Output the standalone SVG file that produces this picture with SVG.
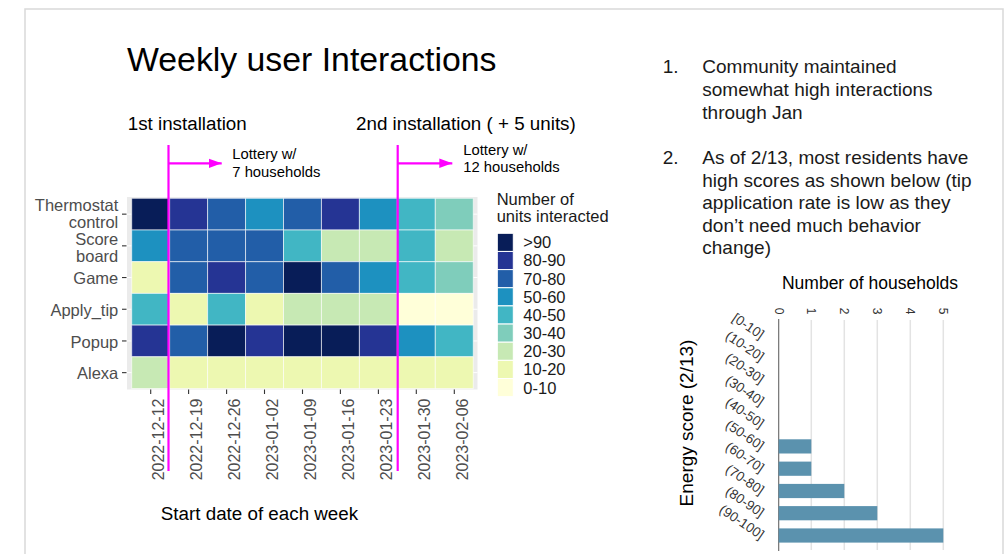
<svg xmlns="http://www.w3.org/2000/svg" width="1005" height="554" viewBox="0 0 1005 554">
<style>
text{font-family:"Liberation Sans",Arial,sans-serif;}
.t{fill:#000}
.ax{fill:#4d4d4d;font-size:16.5px}
.xl{fill:#4d4d4d;font-size:16px}
.lg{fill:#1a1a1a;font-size:16.5px}
.rt{fill:#1a1a1a;font-size:19px}
.c9{fill:#081d58}.c8{fill:#253494}.c7{fill:#225ea8}.c5{fill:#1d91c0}.c4{fill:#41b6c4}.c3{fill:#7fcdbb}.c2{fill:#c7e9b4}.c1{fill:#edf8b1}.c0{fill:#ffffd9}
.tile rect{stroke:#ffffff;stroke-opacity:0.6;stroke-width:1}
.key rect{stroke:#ffffff;stroke-width:1}
.mag{stroke:#ff00ff;stroke-width:2.2;fill:none}
.tick{stroke:#333;stroke-width:1.1}
.grid{stroke:#e3e3e3;stroke-width:1.5}
.bar{fill:#5b92ae}
.bl{fill:#333;font-size:13.5px}
</style>
<defs>
<marker id="ah" markerUnits="userSpaceOnUse" markerWidth="14" markerHeight="10" refX="13" refY="5" orient="auto">
<path d="M0,0.3 L13,5 L0,9.7 z" fill="#ff00ff"/>
</marker>
</defs>
<rect x="0" y="0" width="1005" height="554" fill="#fff"/>
<rect x="25" y="9" width="978" height="560" fill="none" stroke="#d9d9d9" stroke-width="1.5"/>

<g id="title">
<text class="t" x="127" y="71" font-size="33.8">Weekly user Interactions</text>
</g>

<g id="install-labels">
<text class="t" x="127.7" y="130" font-size="18.8">1st installation</text>
<text class="t" x="356" y="130" font-size="18.8">2nd installation ( + 5 units)</text>
<text class="t" x="232.3" y="159.3" font-size="14.8">Lottery w/</text>
<text class="t" x="232.3" y="176.7" font-size="14.8">7 households</text>
<text class="t" x="463.3" y="155" font-size="14.8">Lottery w/</text>
<text class="t" x="463.3" y="171.7" font-size="14.8">12 households</text>
</g>

<g id="heatmap">
<rect x="127" y="197" width="350.5" height="192.5" fill="#ebebeb"/>
<g stroke="#fff" stroke-width="1">
<line x1="127" y1="214.15" x2="477.5" y2="214.15"/>
<line x1="127" y1="245.85" x2="477.5" y2="245.85"/>
<line x1="127" y1="277.55" x2="477.5" y2="277.55"/>
<line x1="127" y1="309.25" x2="477.5" y2="309.25"/>
<line x1="127" y1="340.95" x2="477.5" y2="340.95"/>
<line x1="127" y1="372.65" x2="477.5" y2="372.65"/>
</g>
<g class="tile">
<rect class="c9" x="131.7" y="198.3" width="37.95" height="31.7"/>
<rect class="c8" x="169.65" y="198.3" width="37.95" height="31.7"/>
<rect class="c7" x="207.6" y="198.3" width="37.95" height="31.7"/>
<rect class="c5" x="245.55" y="198.3" width="37.95" height="31.7"/>
<rect class="c7" x="283.5" y="198.3" width="37.95" height="31.7"/>
<rect class="c8" x="321.45" y="198.3" width="37.95" height="31.7"/>
<rect class="c5" x="359.4" y="198.3" width="37.95" height="31.7"/>
<rect class="c4" x="397.35" y="198.3" width="37.95" height="31.7"/>
<rect class="c3" x="435.3" y="198.3" width="37.95" height="31.7"/>

<rect class="c5" x="131.7" y="230" width="37.95" height="31.7"/>
<rect class="c7" x="169.65" y="230" width="37.95" height="31.7"/>
<rect class="c7" x="207.6" y="230" width="37.95" height="31.7"/>
<rect class="c7" x="245.55" y="230" width="37.95" height="31.7"/>
<rect class="c4" x="283.5" y="230" width="37.95" height="31.7"/>
<rect class="c2" x="321.45" y="230" width="37.95" height="31.7"/>
<rect class="c2" x="359.4" y="230" width="37.95" height="31.7"/>
<rect class="c4" x="397.35" y="230" width="37.95" height="31.7"/>
<rect class="c2" x="435.3" y="230" width="37.95" height="31.7"/>

<rect class="c1" x="131.7" y="261.7" width="37.95" height="31.7"/>
<rect class="c7" x="169.65" y="261.7" width="37.95" height="31.7"/>
<rect class="c8" x="207.6" y="261.7" width="37.95" height="31.7"/>
<rect class="c7" x="245.55" y="261.7" width="37.95" height="31.7"/>
<rect class="c9" x="283.5" y="261.7" width="37.95" height="31.7"/>
<rect class="c7" x="321.45" y="261.7" width="37.95" height="31.7"/>
<rect class="c5" x="359.4" y="261.7" width="37.95" height="31.7"/>
<rect class="c4" x="397.35" y="261.7" width="37.95" height="31.7"/>
<rect class="c3" x="435.3" y="261.7" width="37.95" height="31.7"/>

<rect class="c4" x="131.7" y="293.4" width="37.95" height="31.7"/>
<rect class="c1" x="169.65" y="293.4" width="37.95" height="31.7"/>
<rect class="c4" x="207.6" y="293.4" width="37.95" height="31.7"/>
<rect class="c1" x="245.55" y="293.4" width="37.95" height="31.7"/>
<rect class="c2" x="283.5" y="293.4" width="37.95" height="31.7"/>
<rect class="c2" x="321.45" y="293.4" width="37.95" height="31.7"/>
<rect class="c2" x="359.4" y="293.4" width="37.95" height="31.7"/>
<rect class="c0" x="397.35" y="293.4" width="37.95" height="31.7"/>
<rect class="c0" x="435.3" y="293.4" width="37.95" height="31.7"/>

<rect class="c8" x="131.7" y="325.1" width="37.95" height="31.7"/>
<rect class="c7" x="169.65" y="325.1" width="37.95" height="31.7"/>
<rect class="c9" x="207.6" y="325.1" width="37.95" height="31.7"/>
<rect class="c8" x="245.55" y="325.1" width="37.95" height="31.7"/>
<rect class="c9" x="283.5" y="325.1" width="37.95" height="31.7"/>
<rect class="c9" x="321.45" y="325.1" width="37.95" height="31.7"/>
<rect class="c8" x="359.4" y="325.1" width="37.95" height="31.7"/>
<rect class="c5" x="397.35" y="325.1" width="37.95" height="31.7"/>
<rect class="c4" x="435.3" y="325.1" width="37.95" height="31.7"/>

<rect class="c2" x="131.7" y="356.8" width="37.95" height="31.7"/>
<rect class="c1" x="169.65" y="356.8" width="37.95" height="31.7"/>
<rect class="c1" x="207.6" y="356.8" width="37.95" height="31.7"/>
<rect class="c1" x="245.55" y="356.8" width="37.95" height="31.7"/>
<rect class="c1" x="283.5" y="356.8" width="37.95" height="31.7"/>
<rect class="c1" x="321.45" y="356.8" width="37.95" height="31.7"/>
<rect class="c1" x="359.4" y="356.8" width="37.95" height="31.7"/>
<rect class="c1" x="397.35" y="356.8" width="37.95" height="31.7"/>
<rect class="c1" x="435.3" y="356.8" width="37.95" height="31.7"/>
</g>
<g class="tick">
<line x1="122" y1="214.15" x2="126.5" y2="214.15"/>
<line x1="122" y1="245.85" x2="126.5" y2="245.85"/>
<line x1="122" y1="277.55" x2="126.5" y2="277.55"/>
<line x1="122" y1="309.25" x2="126.5" y2="309.25"/>
<line x1="122" y1="340.95" x2="126.5" y2="340.95"/>
<line x1="122" y1="372.65" x2="126.5" y2="372.65"/>
<line x1="150.7" y1="389.5" x2="150.7" y2="394"/>
<line x1="188.6" y1="389.5" x2="188.6" y2="394"/>
<line x1="226.6" y1="389.5" x2="226.6" y2="394"/>
<line x1="264.5" y1="389.5" x2="264.5" y2="394"/>
<line x1="302.5" y1="389.5" x2="302.5" y2="394"/>
<line x1="340.4" y1="389.5" x2="340.4" y2="394"/>
<line x1="378.4" y1="389.5" x2="378.4" y2="394"/>
<line x1="416.3" y1="389.5" x2="416.3" y2="394"/>
<line x1="454.3" y1="389.5" x2="454.3" y2="394"/>
</g>
<g text-anchor="end">
<text class="ax" x="118.3" y="211">Thermostat</text>
<text class="ax" x="118.3" y="228">control</text>
<text class="ax" x="118.3" y="244.5">Score</text>
<text class="ax" x="118.3" y="261.5">board</text>
<text class="ax" x="118.3" y="284">Game</text>
<text class="ax" x="118.3" y="316">Apply_tip</text>
<text class="ax" x="118.3" y="347.5">Popup</text>
<text class="ax" x="118.3" y="379.3">Alexa</text>
<text class="xl" transform="translate(164.2,398.5) rotate(-90)">2022-12-12</text>
<text class="xl" transform="translate(202.1,398.5) rotate(-90)">2022-12-19</text>
<text class="xl" transform="translate(240.1,398.5) rotate(-90)">2022-12-26</text>
<text class="xl" transform="translate(278,398.5) rotate(-90)">2023-01-02</text>
<text class="xl" transform="translate(316,398.5) rotate(-90)">2023-01-09</text>
<text class="xl" transform="translate(353.9,398.5) rotate(-90)">2023-01-16</text>
<text class="xl" transform="translate(391.9,398.5) rotate(-90)">2023-01-23</text>
<text class="xl" transform="translate(429.8,398.5) rotate(-90)">2023-01-30</text>
<text class="xl" transform="translate(467.8,398.5) rotate(-90)">2023-02-06</text>
</g>
<text class="t" x="259.5" y="520" font-size="18.8" text-anchor="middle">Start date of each week</text>
</g>

<g id="connectors">
<line class="mag" x1="168.5" y1="145" x2="168.5" y2="471"/>
<line class="mag" x1="168.5" y1="163.3" x2="221.7" y2="163.3" marker-end="url(#ah)"/>
<line class="mag" x1="397.7" y1="145" x2="397.7" y2="471"/>
<line class="mag" x1="397.7" y1="163.3" x2="452.3" y2="163.3" marker-end="url(#ah)"/>
</g>

<g id="legend">
<text class="lg" x="496.7" y="205">Number of</text>
<text class="lg" x="496.7" y="222.3">units interacted</text>
<g class="key">
<rect class="c9" x="497.3" y="233.3" width="16" height="18.15"/>
<rect class="c8" x="497.3" y="251.45" width="16" height="18.15"/>
<rect class="c7" x="497.3" y="269.6" width="16" height="18.15"/>
<rect class="c5" x="497.3" y="287.75" width="16" height="18.15"/>
<rect class="c4" x="497.3" y="305.9" width="16" height="18.15"/>
<rect class="c3" x="497.3" y="324.05" width="16" height="18.15"/>
<rect class="c2" x="497.3" y="342.2" width="16" height="18.15"/>
<rect class="c1" x="497.3" y="360.35" width="16" height="18.15"/>
<rect class="c0" x="497.3" y="378.5" width="16" height="18.15"/>
</g>
<text class="lg" x="523.3" y="248.3">&gt;90</text>
<text class="lg" x="523.3" y="266.45">80-90</text>
<text class="lg" x="523.3" y="284.6">70-80</text>
<text class="lg" x="523.3" y="302.75">50-60</text>
<text class="lg" x="523.3" y="320.9">40-50</text>
<text class="lg" x="523.3" y="339.05">30-40</text>
<text class="lg" x="523.3" y="357.2">20-30</text>
<text class="lg" x="523.3" y="375.35">10-20</text>
<text class="lg" x="523.3" y="393.5">0-10</text>
</g>

<g id="notes">
<text class="rt" x="662.7" y="73.3">1.</text>
<text class="rt" x="702.3" y="73.3">Community maintained</text>
<text class="rt" x="702.3" y="95.9">somewhat high interactions</text>
<text class="rt" x="702.3" y="118.5">through Jan</text>
<text class="rt" x="662.7" y="164">2.</text>
<text class="rt" x="702.3" y="164">As of 2/13, most residents have</text>
<text class="rt" x="702.3" y="186.6">high scores as shown below (tip</text>
<text class="rt" x="702.3" y="209.2">application rate is low as they</text>
<text class="rt" x="702.3" y="231.8">don’t need much behavior</text>
<text class="rt" x="702.3" y="254.4">change)</text>
</g>

<g id="barchart">
<text class="t" x="870" y="288.5" font-size="17.5" text-anchor="middle" fill="#1a1a1a">Number of households</text>
<g class="grid">
<line x1="811.3" y1="320" x2="811.3" y2="550"/>
<line x1="844.3" y1="320" x2="844.3" y2="550"/>
<line x1="877.3" y1="320" x2="877.3" y2="550"/>
<line x1="910.3" y1="320" x2="910.3" y2="550"/>
<line x1="943.3" y1="320" x2="943.3" y2="550"/>
</g>
<line x1="778.7" y1="319" x2="778.7" y2="551" stroke="#666" stroke-width="1.1"/>
<g font-size="12" fill="#333" text-anchor="middle" dominant-baseline="central">
<text transform="translate(778.7,311) rotate(90)">0</text>
<text transform="translate(811.3,311) rotate(90)">1</text>
<text transform="translate(844.3,311) rotate(90)">2</text>
<text transform="translate(877.3,311) rotate(90)">3</text>
<text transform="translate(910.3,311) rotate(90)">4</text>
<text transform="translate(943.3,311) rotate(90)">5</text>
</g>
<rect class="bar" x="778.7" y="439.3" width="32.6" height="14.2"/>
<rect class="bar" x="778.7" y="461.6" width="32.6" height="14.2"/>
<rect class="bar" x="778.7" y="483.9" width="65.6" height="14.2"/>
<rect class="bar" x="778.7" y="506.1" width="98.6" height="14.2"/>
<rect class="bar" x="778.7" y="528.4" width="164.6" height="14.2"/>
<g class="bl" text-anchor="end">
<text transform="translate(760,339.5) rotate(34)">[0-10]</text>
<text transform="translate(760,361.8) rotate(34)">(10-20]</text>
<text transform="translate(760,384) rotate(34)">(20-30]</text>
<text transform="translate(760,406.3) rotate(34)">(30-40]</text>
<text transform="translate(760,428.5) rotate(34)">(40-50]</text>
<text transform="translate(760,450.8) rotate(34)">(50-60]</text>
<text transform="translate(760,473) rotate(34)">(60-70]</text>
<text transform="translate(760,495.3) rotate(34)">(70-80]</text>
<text transform="translate(760,517.5) rotate(34)">(80-90]</text>
<text transform="translate(760,539.8) rotate(34)">(90-100]</text>
</g>
<text class="t" transform="translate(692.5,423) rotate(-90)" font-size="19" text-anchor="middle" fill="#1a1a1a">Energy score (2/13)</text>
</g>
</svg>
